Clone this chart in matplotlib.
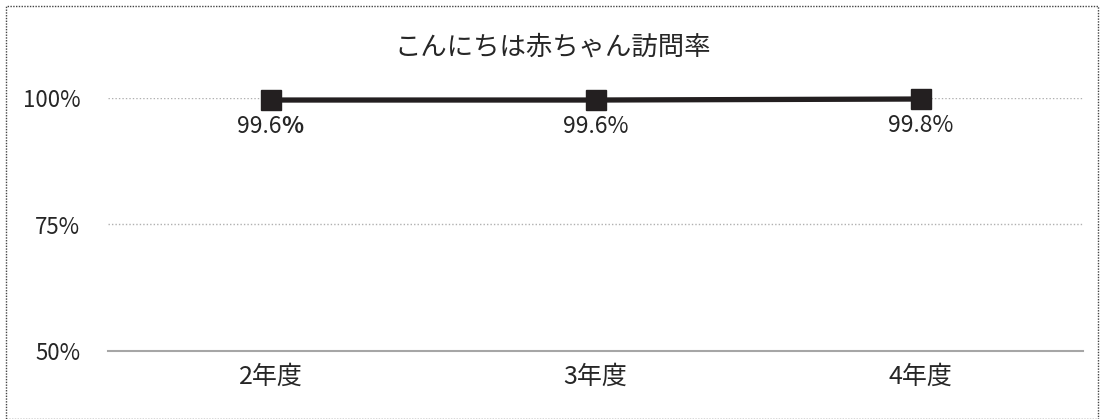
import matplotlib.pyplot as plt
from matplotlib.patches import Rectangle

plt.rcParams['font.family'] = ['Noto Sans CJK JP', 'DejaVu Sans']

title = "こんにちは赤ちゃん訪問率"
years = ["2年度", "3年度", "4年度"]
rates = [99.6, 99.6, 99.8]
yticks = [50, 75, 100]

text_color = "#262626"

fig = plt.figure(figsize=(11.05, 4.19), dpi=100)
ax = fig.add_axes([108 / 1105, 68 / 419, 975 / 1105, 253 / 419])

x = list(range(len(years)))
ax.plot(x, rates, color="#231f20", lw=3.8, marker="s", ms=14.5,
        mec="#231f20", mfc="#231f20", clip_on=False, zorder=3)

for xi, r in zip(x, rates):
    s = f"{r:.1f}"
    if xi == 0:
        # first label has a bold percent sign in the original
        ax.annotate(s, (xi, r), xytext=(8, -19), textcoords="offset points",
                    ha="right", va="center", fontsize=16.5, color=text_color)
        ax.annotate("%", (xi, r), xytext=(8, -19), textcoords="offset points",
                    ha="left", va="center", fontsize=16.5, color=text_color,
                    fontweight="bold")
    else:
        ax.annotate(s + "%", (xi, r), xytext=(0, -19), textcoords="offset points",
                    ha="center", va="center", fontsize=16.5, color=text_color)

ax.set_xlim(-0.5, len(years) - 0.5)
ax.set_ylim(50, 100)
ax.set_xticks(x)
ax.set_xticklabels(years, fontsize=18, color=text_color)
ax.set_yticks(yticks)
ax.set_yticklabels([f"{t}%" for t in yticks], fontsize=16, color=text_color)
ax.tick_params(length=0, pad=9)
ax.tick_params(axis="y", pad=20)

for t in yticks[1:]:
    ax.axhline(t, color="#b0b0b0", lw=1.0, ls=(0, (1, 1.5)), zorder=1)

for side in ["top", "right", "left"]:
    ax.spines[side].set_visible(False)
ax.spines["bottom"].set_color("#a6a6a6")
ax.spines["bottom"].set_linewidth(1.5)

fig.text(0.5, 1 - 47 / 419, title, ha="center", va="center",
         fontsize=19, color=text_color)

fig.patches.append(Rectangle((6 / 1105, 0), 1092 / 1105, 1 - 6 / 419,
                             transform=fig.transFigure, fill=False,
                             ec="#444444", lw=1, ls=(0, (1, 1))))

fig.savefig("out.png", dpi=100)
